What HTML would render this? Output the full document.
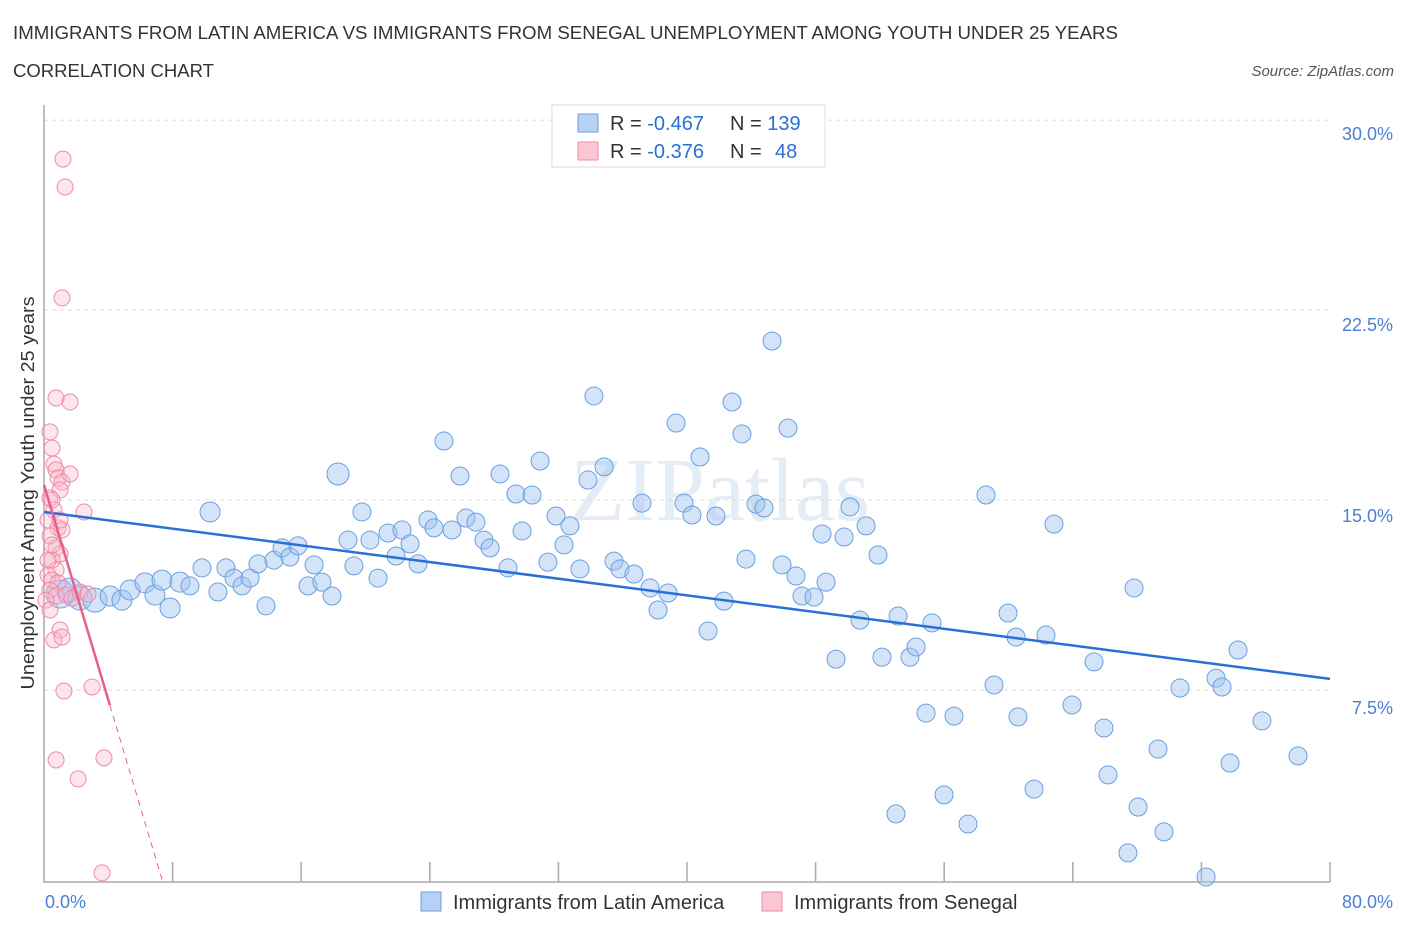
<!DOCTYPE html>
<html><head><meta charset="utf-8"><style>
body{margin:0;background:#fff;font-family:"Liberation Sans",sans-serif;}
svg{display:block}
</style></head><body>
<svg id="c" width="1406" height="930" xmlns="http://www.w3.org/2000/svg">
<text x="13" y="39" font-size="18" fill="#333" textLength="1105" lengthAdjust="spacingAndGlyphs">IMMIGRANTS FROM LATIN AMERICA VS IMMIGRANTS FROM SENEGAL UNEMPLOYMENT AMONG YOUTH UNDER 25 YEARS</text>
<text x="13" y="77" font-size="18" fill="#333" textLength="201" lengthAdjust="spacingAndGlyphs">CORRELATION CHART</text>
<text x="1394" y="76" font-size="15" fill="#555" font-style="italic" text-anchor="end">Source: ZipAtlas.com</text>
<text x="720" y="520" font-size="90" fill="#e4ecf6" text-anchor="middle" font-family="Liberation Serif">ZIPatlas</text>
<g id="grid"></g><g id="marks"></g>
<text transform="translate(34,493) rotate(-90)" font-size="18" fill="#333" text-anchor="middle" textLength="393" lengthAdjust="spacingAndGlyphs">Unemployment Among Youth under 25 years</text>
<text x="45" y="908" font-size="18" fill="#4a7fd4">0.0%</text>
<text x="1393" y="908" font-size="18" fill="#4a7fd4" text-anchor="end">80.0%</text>
<g>
<rect x="552" y="105" width="273" height="62" fill="#fff" stroke="#ddd"/>
<rect x="578" y="114" width="20" height="18" fill="#b7d1f5" stroke="#6a9fe0"/>
<text x="610" y="130" font-size="20" fill="#333">R = <tspan fill="#2a6fd6">-0.467</tspan><tspan x="730">N = </tspan><tspan fill="#2a6fd6">139</tspan></text>
<rect x="578" y="142" width="20" height="18" fill="#f9c6d4" stroke="#f08aa8"/>
<text x="610" y="158" font-size="20" fill="#333">R = <tspan fill="#2a6fd6"> -0.376</tspan><tspan x="730">N = </tspan><tspan fill="#2a6fd6" x="775">48</tspan></text>
</g>
<g>
<rect x="421" y="892" width="20" height="19" fill="#b7d1f5" stroke="#6a9fe0"/>
<text x="453" y="909" font-size="20" fill="#333">Immigrants from Latin America</text>
<rect x="762" y="892" width="20" height="19" fill="#f9c6d4" stroke="#f08aa8"/>
<text x="794" y="909" font-size="20" fill="#333">Immigrants from Senegal</text>
</g>
</svg>
<script>
const yTicks=[7.5,15,22.5,30];
const yTickLabels=["7.5%","15.0%","22.5%","30.0%"];
const xTicks=[8,16,24,32,40,48,56,64,72,80];
const latinX=[1.0,1.6,2.24,3.17,4.11,4.85,5.35,6.28,6.9,7.34,7.84,8.46,9.08,9.83,10.33,10.82,11.32,11.82,12.32,12.82,13.31,13.81,14.31,14.81,15.3,15.8,16.42,16.8,17.29,17.92,18.29,18.91,19.28,19.78,20.28,20.78,21.4,21.9,22.27,22.77,23.27,23.89,24.26,24.88,25.38,25.88,26.25,26.87,27.37,27.75,28.37,28.86,29.36,29.74,30.36,30.86,31.35,31.85,32.35,32.72,33.34,33.84,34.21,34.84,35.46,35.83,36.7,37.2,37.7,38.2,38.82,39.32,39.81,40.31,40.81,41.31,41.8,42.3,42.8,43.42,43.67,44.29,44.79,45.29,45.91,46.28,46.78,47.15,47.9,48.4,48.65,49.27,49.77,50.14,50.76,51.14,51.88,52.13,53.0,53.13,53.87,54.25,54.87,55.24,55.99,56.61,57.48,58.6,59.1,59.97,60.47,60.59,61.59,62.33,62.83,63.95,65.32,65.94,66.19,67.43,67.81,68.06,69.3,69.67,70.67,72.29,72.91,73.28,73.78,74.28,75.77,78.01];
const latinY=[11.29,11.45,11.13,11.05,11.21,11.05,11.45,11.73,11.25,11.84,10.74,11.76,11.61,12.32,14.53,11.37,12.32,11.92,11.61,11.92,12.48,10.82,12.63,13.11,12.75,13.19,11.61,12.44,11.76,11.21,16.03,13.42,12.4,14.53,13.42,11.92,13.7,12.79,13.82,13.27,12.48,14.21,13.9,17.33,13.82,15.95,14.29,14.13,13.42,13.11,16.03,12.32,15.24,13.78,15.2,16.54,12.55,14.37,13.23,13.98,12.28,15.79,19.11,16.31,12.59,12.28,12.08,14.88,11.53,10.66,11.33,18.04,14.88,14.41,16.7,9.83,14.37,11.01,18.87,17.61,12.67,14.84,14.69,21.28,12.44,17.84,12.0,11.21,11.17,13.66,11.76,8.72,13.54,14.73,10.26,13.98,12.83,8.8,2.61,10.42,8.8,9.2,6.59,10.15,3.36,6.47,2.21,15.2,7.7,10.54,9.59,6.44,3.59,9.67,14.05,6.91,8.61,6.0,4.15,1.07,11.53,2.88,5.17,1.9,7.58,0.12,7.97,7.62,4.62,9.08,6.28,4.9];
const latinSize=[14,12,12,12,10,10,10,10,10,10,10,10,9,9,10,9,9,9,9,9,9,9,9,9,9,9,9,9,9,9,11];
const senX=[1.18,1.31,1.12,0.75,1.62,0.37,0.5,0.62,0.75,0.87,1.12,1.62,1.0,0.37,0.62,2.49,0.25,0.87,1.12,0.37,0.75,1.0,0.5,0.75,0.25,0.5,0.87,0.37,0.75,0.12,1.0,0.62,1.12,1.24,2.99,0.75,3.73,2.12,3.61,0.25,0.5,1.0,1.37,1.74,2.24,2.74,0.37,0.5];
const senY=[28.46,27.36,22.98,19.03,18.87,17.69,17.05,16.42,16.19,15.87,15.71,16.03,15.4,15.08,14.61,14.53,14.21,13.9,13.82,13.58,13.11,12.87,12.63,12.24,12.04,11.84,11.73,11.45,11.21,11.05,9.87,9.48,9.59,7.46,7.62,4.74,4.82,3.99,0.28,12.63,13.23,14.21,11.25,11.13,11.37,11.29,10.66,15.0];
const latinTrend=[14.53,7.94];
const senTrend=[15.6,6.9];
const senTrendX=[0,4.1,7.35];
const NS="http://www.w3.org/2000/svg";
const X=v=>44+v*16.075, Y=v=>880-v*25.33;
function mk(t,a,p){const e=document.createElementNS(NS,t);for(const k in a)e.setAttribute(k,a[k]);p.appendChild(e);return e;}
const g=document.getElementById('grid'),m=document.getElementById('marks'),svg=document.getElementById('c');
const labOff=[24,22,21,20];
yTicks.forEach((t,i)=>{
 const l=mk('line',{x1:44,x2:1330,y1:Y(t),y2:Y(t),stroke:'#ddd','stroke-dasharray':'4,4'},g);
 
 
 const tx=mk('text',{x:1393,y:Y(t)+labOff[i],'font-size':18,fill:'#4a7fd4','text-anchor':'end'},svg);
 tx.textContent=yTickLabels[i];
 
 
});
const ax=mk('path',{d:'M44 105 V882 H1330',fill:'none',stroke:'#aaa','stroke-width':1.5},g);


xTicks.forEach(t=>{
 const l=mk('line',{x1:X(t),x2:X(t),y1:862,y2:882,stroke:'#aaa','stroke-width':1.5},g);
 
 
});
latinX.forEach((x,i)=>{
 const c=mk('circle',{cx:X(x),cy:Y(latinY[i]),r:latinSize[i]||9,fill:'rgba(160,196,240,0.45)',stroke:'#6a9fe0','stroke-width':1},m);
 
 
});
senX.forEach((x,i)=>{
 const c=mk('circle',{cx:X(x),cy:Y(senY[i]),r:8,fill:'rgba(248,180,200,0.35)',stroke:'#f08aa8','stroke-width':1},m);
 
 
});
const bl=mk('line',{x1:X(0),y1:Y(latinTrend[0]),x2:X(80),y2:Y(latinTrend[1]),stroke:'#2a6fd6','stroke-width':2.5},m);


const pl=mk('line',{x1:X(senTrendX[0]),y1:Y(senTrend[0]),x2:X(senTrendX[1]),y2:Y(senTrend[1]),stroke:'#e8608a','stroke-width':2.5},m);


const pd=mk('line',{x1:X(senTrendX[1]),y1:Y(senTrend[1]),x2:X(senTrendX[2]),y2:Y(0),stroke:'#e8608a','stroke-width':1,'stroke-dasharray':'6,5'},m);


</script>
</body></html>
